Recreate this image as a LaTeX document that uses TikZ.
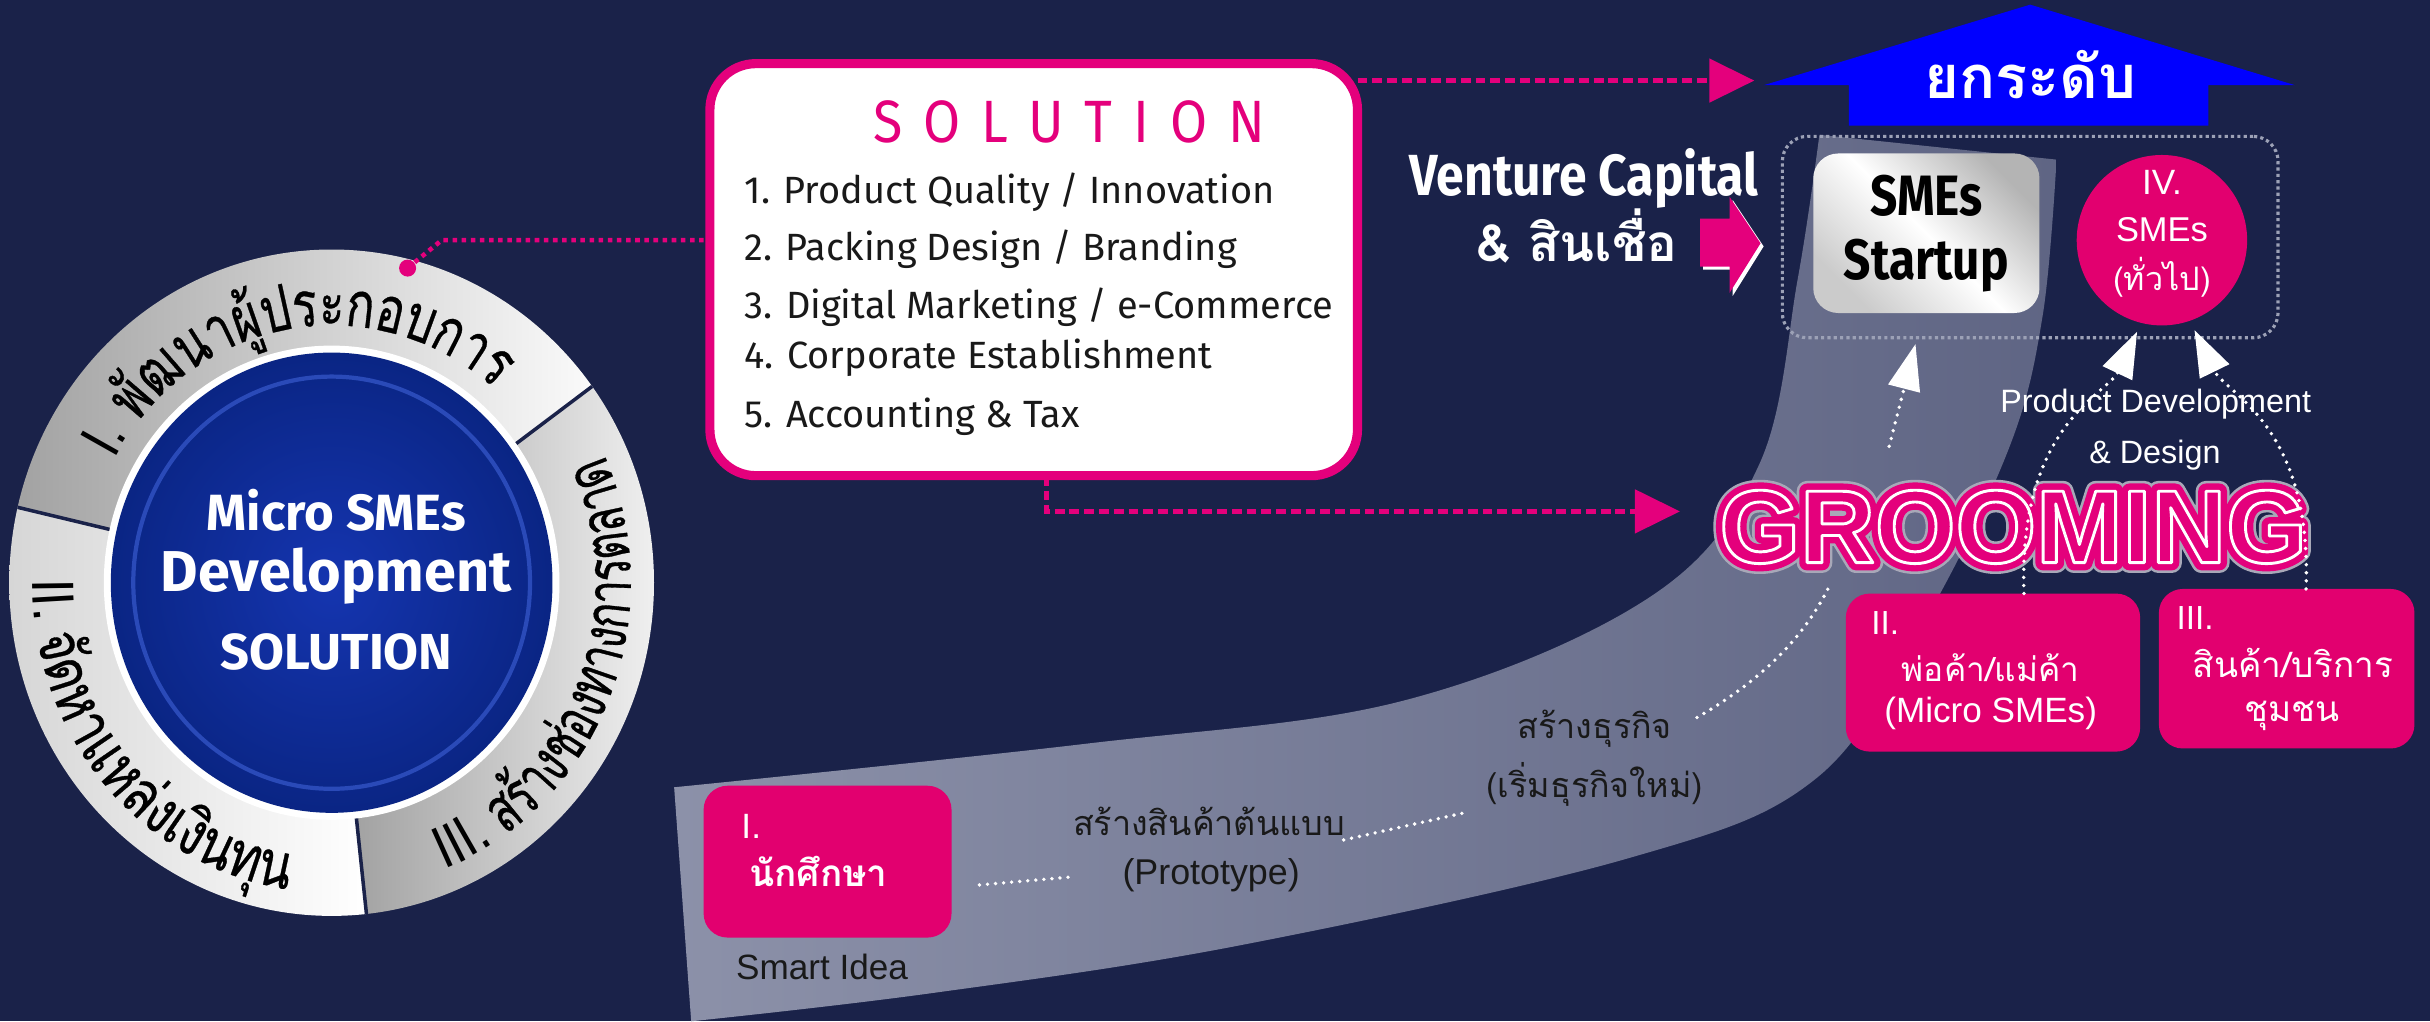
\documentclass[tikz,border=0pt]{standalone}
\usepackage{fontspec}
\usetikzlibrary{arrows.meta,decorations.text,shapes.geometric,calc}
\newfontfamily\thaifont[Script=Thai]{Loma}
\newfontfamily\ringfontA[Script=Thai,FakeStretch=0.74,FakeBold=0.5]{Loma}
\newfontfamily\ringfontB[Script=Thai,FakeStretch=0.78,FakeBold=0.5]{Loma}
\newfontfamily\ringfontC[Script=Thai,FakeStretch=0.68,FakeBold=0.5]{Loma}
\newfontfamily\ringlat[FakeStretch=0.85]{Liberation Sans}
\newfontfamily\helv{Liberation Sans}
\newfontfamily\firac[FakeStretch=0.84]{Fira Sans}
\newfontfamily\firal{Fira Sans}
\newfontfamily\firavc[FakeStretch=0.86]{Fira Sans}
\newfontfamily\firab{Fira Sans}
\newfontfamily\titlefont[FakeStretch=0.9,LetterSpace=35]{Fira Sans}
\newfontfamily\groomGlow[FakeBold=20]{Liberation Sans}
\newfontfamily\groomOuter[FakeBold=15]{Liberation Sans}
\newfontfamily\groomInner[FakeBold=2.8]{Liberation Sans}
\newcommand\setfs[1]{\fontsize{#1}{#1}\selectfont}
\newcommand\ringlt{\ringlat\setfs{17}}
\definecolor{bg}{HTML}{1A2249}
\definecolor{pinkc}{HTML}{E4007C}
\definecolor{boxpink}{HTML}{E2006F}
\definecolor{bandL}{HTML}{8C91A9}
\definecolor{bandR}{HTML}{5F6584}
\definecolor{ringgray}{HTML}{9C9C9C}
\definecolor{ringlight}{HTML}{CFCFCF}
\definecolor{discin}{HTML}{1535B0}
\definecolor{discout}{HTML}{0A2584}
\definecolor{discline}{HTML}{2A4AB8}
\definecolor{framegray}{HTML}{9CA1B6}
\definecolor{upblue}{HTML}{0000FF}
\definecolor{smeA}{HTML}{B4B4B4}
\definecolor{groomglow}{HTML}{A8A8B8}
\begin{document}
\begin{tikzpicture}[x=0.015497cm, y=0.015497cm,
  pinkdot/.style={pinkc, line width=1.3pt, dash pattern=on 1.3pt off 1.3pt},
  pinkdash/.style={pinkc, line width=1.4pt, dash pattern=on 2.8pt off 1.4pt, -{Triangle[length=0.45cm,width=0.43cm]}},
  wdot/.style={white, line width=1.1pt, line cap=round, dash pattern=on 0pt off 2.3pt},
  wdotarrow/.style={wdot, -{Triangle[length=0.46cm,width=0.32cm]}},
  pbox/.style={fill=boxpink, rounded corners=0.24cm, inner sep=0pt},
  wtxt/.style={text=white, inner sep=0pt},
  btxt/.style={text=black!90, inner sep=0pt},
  ringdeco/.style={decorate, decoration={text along path, text align=center, text={#1}}},
  groom/.style={inner sep=0pt}
]
% background
\fill[bg] (0,0) rectangle (1568,659);
\useasboundingbox (0,0) rectangle (1568,659);

% gray band
\shade[left color=bandL, right color=bandR]
  plot[smooth, tension=0.6] coordinates {(435,151) (700,179) (906,207) (1065,274) (1135,359) (1160,479) (1174,572)}
  -- plot[smooth, tension=0.6] coordinates {(1327,556) (1318,455) (1296,369) (1240,255) (1171,156) (1050,105) (800,49) (600,18) (446,0)}
  -- cycle;

% ring
\coordinate (rc) at (214,283);
\begin{scope}
  \clip (rc) ellipse [x radius=208, y radius=215];
  \shade[left color=ringgray, right color=white] (rc) -- ($(rc)+(37:235)$) arc[start angle=37,end angle=166.5,radius=235] -- cycle;
  \shade[left color=ringlight, right color=white] (rc) -- ($(rc)+(166.5:235)$) arc[start angle=166.5,end angle=276,radius=235] -- cycle;
  \shade[left color=ringgray, right color=white] (rc) -- ($(rc)+(276:235)$) arc[start angle=276,end angle=397,radius=235] -- cycle;
  \foreach \a in {37,166.5,276} \draw[bg, line width=1pt] (rc) -- ++(\a:240);
\end{scope}
\fill[white] (rc) ellipse [x radius=147, y radius=153];
\shade[inner color=discin, outer color=discout] (rc) ellipse [x radius=142.5, y radius=148.5];
\draw[discline, line width=1.2pt] (rc) ellipse [x radius=128, y radius=133];

\node[wtxt, font=\firab\bfseries\setfs{14.5}] (d1) at (217,330) {Micro SMEs};
\node[wtxt, font=\firab\bfseries\setfs{16.4}] (d2) at (217,287) {Development};
\node[wtxt, font=\firab\bfseries\setfs{14.4}] (d3) at (217,238) {SOLUTION};

% ring texts
\path[ringdeco={|\ringlt|I. |\ringfontA\setfs{18}|{พั}ฒนา{ผู้}ประกอบการ}] ($(rc)+(182:160 and 166)$) arc[start angle=182, end angle=18, x radius=160, y radius=166];
\path[ringdeco={|\ringlt|II. |\ringfontB\setfs{18}|{จั}ดหาแห{ล่}งเ{งิ}น{ทุ}น}] ($(rc)+(148:193 and 200)$) arc[start angle=148, end angle=294, x radius=193, y radius=200];
\path[ringdeco={|\ringlt|III. |\ringfontC\setfs{18}|ส{ร้}าง{ช่}องทางการตลาด}] ($(rc)+(266:193 and 200)$) arc[start angle=266, end angle=410, x radius=193, y radius=200];

% SOLUTION box
\node[draw=pinkc, fill=white, line width=2.6pt, rounded corners=0.46cm, minimum width=6.478cm, minimum height=4.122cm, inner sep=0pt] (sol) at (667,485) {};
\node[text=pinkc, inner sep=0pt, font=\titlefont\setfs{17}] (soltitle) at (690,580) {SOLUTION};
\node[btxt, anchor=west, font=\firal\setfs{10.8}] (s1) at (480,535) {1. Product Quality / Innovation};
\node[btxt, anchor=west, font=\firal\setfs{10.8}] (s2) at (480,498) {2. Packing Design / Branding};
\node[btxt, anchor=west, font=\firal\setfs{10.8}] (s3) at (480,461) {3. Digital Marketing / e-Commerce};
\node[btxt, anchor=west, font=\firal\setfs{10.8}] (s4) at (480,428) {4. Corporate Establishment};
\node[btxt, anchor=west, font=\firal\setfs{10.8}] (s5) at (480,390) {5. Accounting \& Tax};

% pink dotted connector from ring
\node[circle, fill=pinkc, minimum size=0.17cm, inner sep=0pt] (pdot) at (263,486) {};
\coordinate (pbend) at (285,504);
\draw[pinkdot] (pdot) -- (pbend) -- (pbend -| sol.west);

% dashed pink arrows
\coordinate (solTR) at (876,607);
\coordinate (ykTip) at (1132,607);
\draw[pinkdash] (solTR) -- (ykTip);
\coordinate (solB) at (675,352);
\coordinate (grTip) at (1084,329);
\draw[pinkdash] (solB) |- (grTip);

% blue up arrow
\fill[upblue] (1138,604) -- (1310,656) -- (1481,604) -- (1425,604) -- (1425,578) -- (1193,578) -- (1193,604) -- cycle;
\node[wtxt, font=\thaifont\bfseries\setfs{17}] (yk) at (1310,611) {ยกระดับ};

% venture capital
\node[wtxt, anchor=east, font=\firavc\bfseries\setfs{16.5}] (vc1) at (1135,544) {Venture Capital};
\node[wtxt, anchor=east, font=\thaifont\bfseries\setfs{14.6}] (vc2) at (1083,507) {\& สินเชื่อ};
\fill[white] (1099,516) -- (1118,516) -- (1118,530) -- (1138,500) -- (1118,468) -- (1118,485) -- (1099,485) -- cycle;
\fill[pinkc] (1097,518) -- (1116,518) -- (1116,532) -- (1136,502) -- (1116,470) -- (1116,487) -- (1097,487) -- cycle;

% dotted frame
\node[draw=framegray, line width=0.9pt, dash pattern=on 0.9pt off 0.9pt, rounded corners=0.25cm, minimum width=4.959cm, minimum height=2.015cm, inner sep=0pt] (frame) at (1310,506) {};

% SMEs startup
\node[rounded corners=0.25cm, left color=smeA, right color=smeA!70, middle color=white, shading angle=-45, minimum width=2.263cm, minimum height=1.596cm, align=center, font=\firac\bfseries\setfs{16.2}, inner sep=0pt] (sme) at (1243,508.5) {SMEs\\[2pt]Startup};

% IV circle
\node[circle, fill=boxpink, minimum size=1.705cm, inner sep=0pt] (iv) at (1395,504) {};
\node[wtxt, font=\helv\setfs{10}] (iv1) at (1395,541) {IV.};
\node[wtxt, font=\helv\setfs{9.8}] (iv2) at (1395,511) {SMEs};
\node[wtxt, font=\thaifont\setfs{9.2}] (iv3) at (1395,480) {(ทั่วไป)};

% GROOMING (stroked outline layers)
\node[groom, text=groomglow] (g0) at (1299,319) {\special{pdf:literal direct 1 j}\groomGlow\bfseries\setfs{29.5}GROOMING};
\node[groom, text=pinkc] (g1) at (1299,319) {\special{pdf:literal direct 1 j}\groomOuter\bfseries\setfs{29.5}GROOMING};
\node[groom, text=pinkc] (g2) at (1299,319) {\special{pdf:literal direct 1 j 1 1 1 RG}\groomInner\bfseries\setfs{29.5}GROOMING};

% pink boxes
\node[pbox, minimum width=2.48cm, minimum height=1.519cm] (b1) at (534,103) {};
\node[pbox, minimum width=2.944cm, minimum height=1.581cm] (b2) at (1286,225) {};
\node[pbox, minimum width=2.557cm, minimum height=1.596cm] (b3) at (1475.5,227.5) {};

\node[wtxt, anchor=west, font=\helv\setfs{10}] (b1a) at (478,126) {I.};
\node[wtxt, font=\thaifont\bfseries\setfs{10.5}] (b1b) at (528,97) {นักศึกษา};
\node[btxt, font=\helv\setfs{10}] (smart) at (530.5,35) {Smart Idea};

\node[wtxt, anchor=west, font=\helv\setfs{9.5}] (b2a) at (1207,257) {II.};
\node[wtxt, font=\thaifont\setfs{9.5}] (b2b) at (1284.5,228) {พ่อค้า/แม่ค้า};
\node[wtxt, font=\helv\setfs{10}] (b2c) at (1284.5,198.5) {(Micro SMEs)};

\node[wtxt, anchor=west, font=\helv\setfs{9.5}] (b3a) at (1404,260) {III.};
\node[wtxt, font=\thaifont\setfs{10}] (b3b) at (1479.5,231) {สินค้า/บริการ};
\node[wtxt, font=\thaifont\setfs{10}] (b3c) at (1479,197) {ชุมชน};

% band texts
\node[btxt, font=\thaifont\setfs{9.7}] (t1a) at (780,129) {สร้างสินค้าต้นแบบ};
\node[btxt, font=\helv\setfs{10.2}] (t1b) at (781.5,94) {(Prototype)};
\node[btxt, font=\thaifont\setfs{9.7}] (t2a) at (1029,189) {สร้างธุรกิจ};
\node[btxt, font=\thaifont\setfs{9.7}] (t2b) at (1029,153) {(เริ่มธุรกิจใหม่)};

% product development
\node[wtxt, font=\helv\setfs{9.2}] (pd1) at (1391,398) {Product Development};
\node[wtxt, font=\helv\setfs{9.2}] (pd2) at (1390.5,365) {\& Design};

% white dotted connectors
\coordinate (d1a) at (632,88);
\coordinate (d1b) at (690,93);
\draw[wdot] (d1a) -- (d1b);
\coordinate (d2a) at (867,117);
\coordinate (d2b) at (947,135);
\draw[wdot] (d2a) -- (d2b);
\coordinate (d3a) at (1095,196);
\coordinate (d3b) at (1180,280);
\draw[wdot] (d3a) .. controls (1140,222) and (1165,250) .. (d3b);

\coordinate (grUp) at (1219,371);
\coordinate (frIn) at (1236,437);
\draw[wdotarrow] (grUp) -- (frIn);
\coordinate (b2top) at (1306,276);
\coordinate (ivL) at (1379,445);
\draw[wdotarrow] (b2top) .. controls (1302,385) and (1360,405) .. (ivL);
\coordinate (b3top) at (1488,279);
\coordinate (ivR) at (1416,446);
\draw[wdotarrow] (b3top) .. controls (1492,385) and (1436,405) .. (ivR);
\end{tikzpicture}
\end{document}
